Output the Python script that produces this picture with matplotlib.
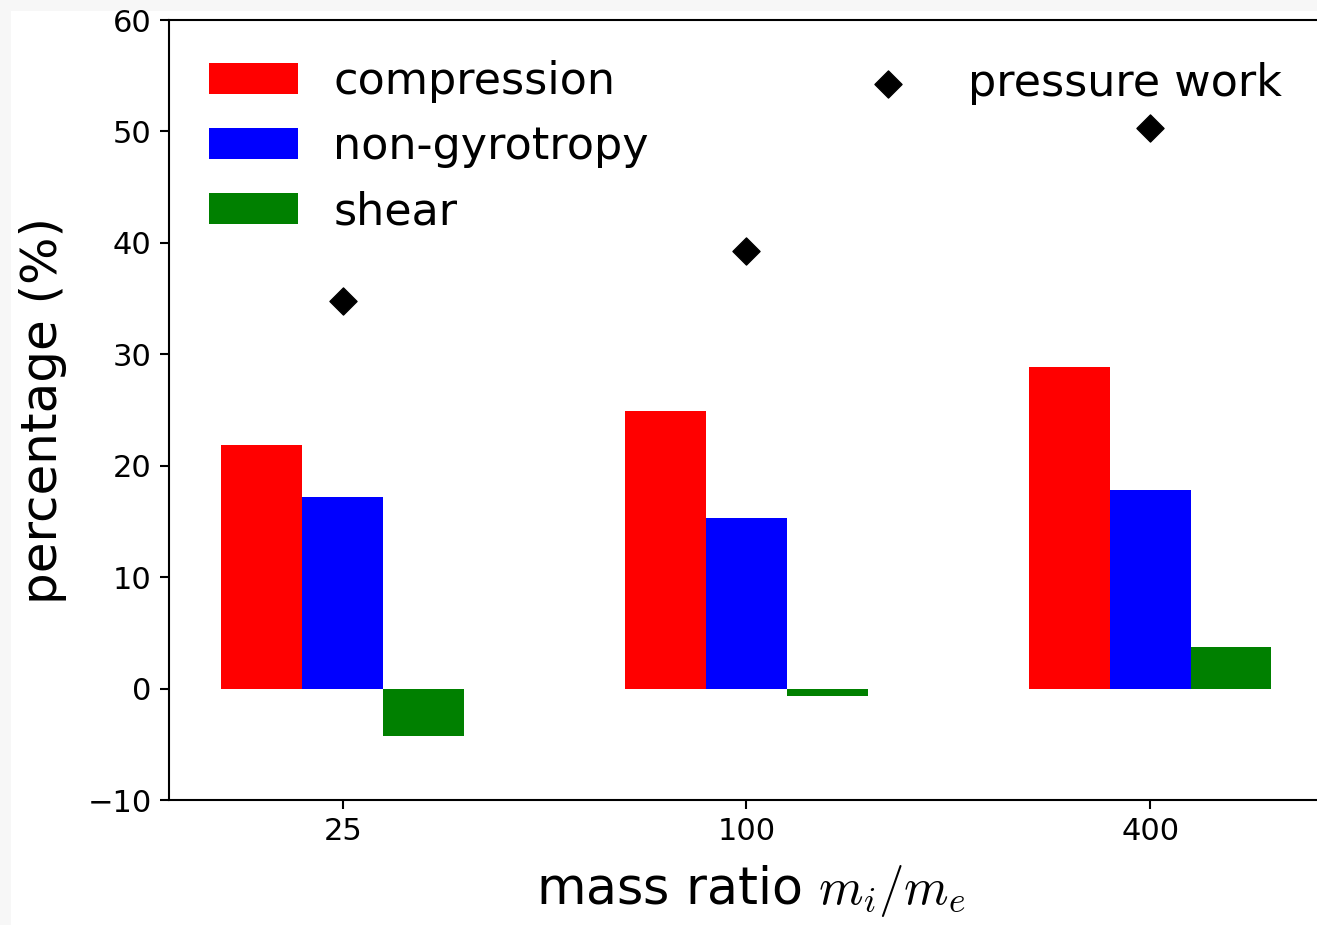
import matplotlib
matplotlib.use("Agg")
import matplotlib.pyplot as plt
import numpy as np

plt.rcParams["mathtext.fontset"] = "cm"

mass_ratios = ["25", "100", "400"]
compression = [21.9, 24.95, 28.9]
non_gyrotropy = [17.2, 15.35, 17.8]
shear = [-4.3, -0.7, 3.7]
pressure_work = [34.8, 39.3, 50.3]

fig = plt.figure(figsize=(13.17, 9.25), dpi=100)
fig.patch.set_facecolor("#f7f7f7")
fig.patches.append(plt.Rectangle((11/1317, 0), 1, 1 - 11/925, transform=fig.transFigure,
                                 facecolor="white", edgecolor="none", zorder=-10))

ax = fig.add_axes([169/1317, 1 - 800/925, 1163/1317, 780/925])
ax.set_facecolor("white")
x = np.arange(len(mass_ratios))
w = 0.2
b1 = ax.bar(x - w, compression, w, color="red", label="compression")
b2 = ax.bar(x, non_gyrotropy, w, color="blue", label="non-gyrotropy")
b3 = ax.bar(x + w, shear, w, color="green", label="shear")
sc = ax.scatter(x, pressure_work, marker="D", s=190, color="black", label="pressure work", zorder=3)

ax.set_xlim(-0.43, 2.45)
ax.set_ylim(-10, 60)
ax.set_xticks(x)
ax.set_xticklabels(mass_ratios)
ax.set_yticks(np.arange(-10, 61, 10))
ax.tick_params(labelsize=22, length=6.5, width=1.5, pad=6)
for s in ax.spines.values():
    s.set_linewidth(1.5)
ax.set_ylabel("percentage (%)", fontsize=36, labelpad=15)
ax.set_xlabel("mass ratio $m_i/m_e$", fontsize=36.5, labelpad=12)

leg1 = ax.legend(handles=[b1, b2, b3], loc="upper left", frameon=False, fontsize=32)
ax.add_artist(leg1)
ax.legend(handles=[sc], loc="upper right", frameon=False, fontsize=32, scatterpoints=1,
          bbox_to_anchor=(1322/1317, 1 - 22/925), bbox_transform=fig.transFigure)
fig.savefig("out.png", dpi=100, facecolor=fig.get_facecolor())
